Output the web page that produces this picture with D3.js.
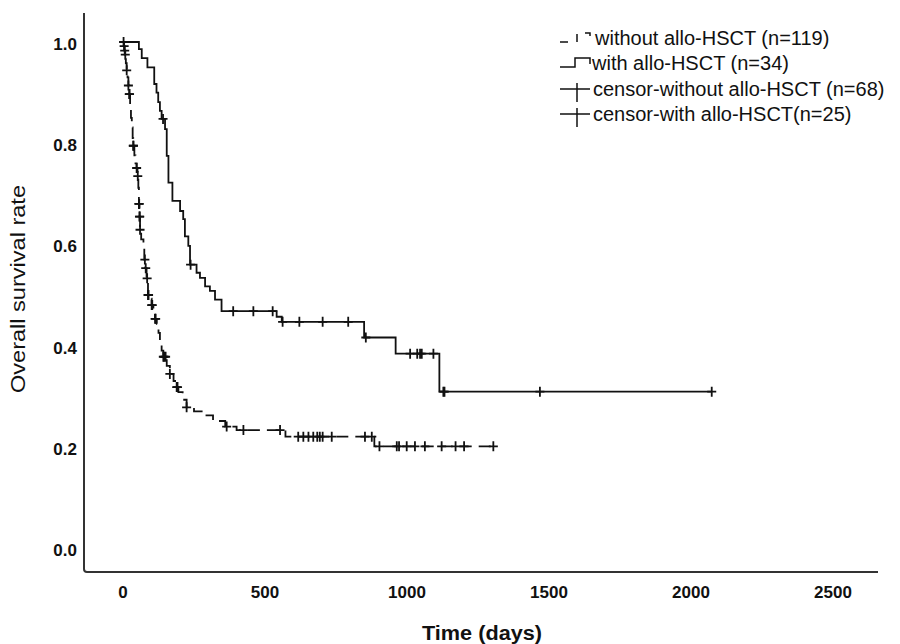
<!DOCTYPE html>
<html>
<head>
<meta charset="utf-8">
<script src="https://cdn.jsdelivr.net/npm/d3@7"></script>
<style>
  html, body { margin: 0; padding: 0; background: #fff; }
  svg { display: block; font-family: "Liberation Sans", Arial, sans-serif; }
</style>
</head>
<body>
<svg id="chart" width="900" height="644"></svg>
<script>
// ---------- data ----------
const timeTicks = [0, 500, 1000, 1500, 2000, 2500];
const survTicks = [0, 0.2, 0.4, 0.6, 0.8, 1.0];

// without allo-HSCT (n=119): event times (days) and survival after each step
const withoutTimes = [0,3,5,7,10,13,16,19,22,25,28,31,34,36,40,44,48,51,54,56,58,60,64,72,75,78,83,88,95,101,107,113,119,125,130,136,142,154,165,178,189,195,210,224,250,277,317,360,400,572,885];
const withoutSurv  = [1.0,0.992,0.983,0.975,0.958,0.944,0.93,0.914,0.897,0.871,0.85,0.831,0.81,0.795,0.776,0.76,0.751,0.735,0.712,0.68,0.655,0.629,0.61,0.592,0.57,0.553,0.533,0.50,0.493,0.48,0.466,0.453,0.443,0.425,0.407,0.39,0.378,0.36,0.344,0.33,0.318,0.308,0.293,0.278,0.27,0.262,0.251,0.24,0.233,0.22,0.201];
const withoutEnd = 1315;
const withoutCensor = [2,4,6,8,13,19,22,23,36,37,48,52,56,57,58,59,60,77,80,85,88,90,101,103,113,115,142,145,150,165,189,192,224,365,424,553,617,635,653,670,684,693,703,735,852,876,903,964,972,999,1028,1063,1122,1171,1201,1304];

// with allo-HSCT (n=34)
const withTimes = [0,56,66,86,110,118,124,130,136,148,154,160,174,201,212,218,230,236,259,271,289,306,324,347,541,559,849,960,1114];
const withSurv  = [1.0,0.986,0.968,0.950,0.917,0.900,0.881,0.864,0.848,0.828,0.775,0.722,0.686,0.666,0.650,0.616,0.597,0.560,0.544,0.534,0.517,0.508,0.491,0.468,0.457,0.447,0.416,0.384,0.309];
const withEnd = 2073;
const withCensor = [141,238,388,459,527,562,621,703,793,855,1011,1036,1046,1052,1093,1128,1132,1468,2073];

const legendLabels = [
  "without allo-HSCT (n=119)",
  "with allo-HSCT (n=34)",
  "censor-without allo-HSCT (n=68)",
  "censor-with allo-HSCT(n=25)"
];

// ---------- layout ----------
const svg = d3.select("#chart");
const ink = "#111";
const x = d3.scaleLinear().domain([0, 2500]).range([123, 833]);
const y = d3.scaleLinear().domain([0, 1]).range([548, 42]);

const axisX0 = 84, axisY0 = 572;

// axes lines (SPSS style, no ticks)
svg.append("path")
  .attr("d", `M${axisX0},13 V${axisY0 - 3} Q${axisX0},${axisY0} ${axisX0 + 3},${axisY0} H878`)
  .attr("fill", "none").attr("stroke", "#333").attr("stroke-width", 2);

// tick labels
svg.append("g").selectAll("text").data(survTicks).join("text")
  .attr("x", 77).attr("y", d => y(d) + 2).attr("dy", "0.35em")
  .attr("text-anchor", "end").attr("font-size", 17).attr("font-weight", "bold")
  .attr("fill", ink).text(d => d3.format(".1f")(d));

svg.append("g").selectAll("text").data(timeTicks).join("text")
  .attr("x", d => x(d)).attr("y", 592).attr("dy", "0.35em")
  .attr("text-anchor", "middle").attr("font-size", 17).attr("font-weight", "bold")
  .attr("fill", ink).text(d => d);

// axis titles
svg.append("text")
  .attr("transform", "translate(25,289) rotate(-90)")
  .attr("text-anchor", "middle").attr("font-size", 21)
  .attr("textLength", 208).attr("lengthAdjust", "spacingAndGlyphs")
  .attr("fill", ink).text("Overall survival rate");

svg.append("text")
  .attr("x", 482).attr("y", 640)
  .attr("text-anchor", "middle").attr("font-size", 20).attr("font-weight", "bold")
  .attr("textLength", 120).attr("lengthAdjust", "spacingAndGlyphs")
  .attr("fill", ink).text("Time (days)");

// ---------- curves ----------
function series(times, surv, end) {
  const pts = times.map((t, i) => ({ t, s: surv[i] }));
  pts.push({ t: end, s: surv[surv.length - 1] });
  return pts;
}
const withoutPts = series(withoutTimes, withoutSurv, withoutEnd);
const withPts = series(withTimes, withSurv, withEnd);

const line = d3.line().x(d => x(d.t)).y(d => y(d.s)).curve(d3.curveStepAfter);

svg.append("path").datum(withoutPts).attr("d", line)
  .attr("fill", "none").attr("stroke", ink).attr("stroke-width", 1.8)
  .attr("stroke-dasharray", "12,7");

svg.append("path").datum(withPts).attr("d", line)
  .attr("fill", "none").attr("stroke", ink).attr("stroke-width", 1.8);

const bis = d3.bisector(d => d.t).right;
function survAt(pts, t) {
  const i = Math.max(0, bis(pts, t) - 1);
  return pts[i].s;
}
function censorMarks(pts, times) {
  svg.append("g").selectAll("path").data(times).join("path")
    .attr("d", t => {
      const cx = x(t), cy = y(survAt(pts, t));
      return `M${cx - 4.5},${cy} H${cx + 4.5} M${cx},${cy - 5} V${cy + 5}`;
    })
    .attr("fill", "none").attr("stroke", ink).attr("stroke-width", 1.8);
}
censorMarks(withoutPts, withoutCensor);
censorMarks(withPts, withCensor);

// ---------- legend ----------
const legX = 560, rowY = [38, 63, 89, 114];
const lg = svg.append("g");
// row 1: dashed step
lg.append("path").attr("d", `M${legX},${rowY[0] + 4} H${legX + 17} V${rowY[0] - 5} H${legX + 30} V${rowY[0] + 3}`)
  .attr("fill", "none").attr("stroke", ink).attr("stroke-width", 1.5).attr("stroke-dasharray", "8,9");
// row 2: solid step
lg.append("path").attr("d", `M${legX},${rowY[1] + 4} H${legX + 15} V${rowY[1] - 5} H${legX + 30} V${rowY[1] + 1}`)
  .attr("fill", "none").attr("stroke", ink).attr("stroke-width", 1.5);
// rows 3-4: censor crosses
[2, 3].forEach(i => {
  lg.append("path").attr("d", `M${legX},${rowY[i]} H${legX + 30} M${legX + 17},${rowY[i] - 6} V${rowY[i] + 13}`)
    .attr("fill", "none").attr("stroke", ink).attr("stroke-width", 1.5);
});
const legTextX = [595, 592, 593, 593];
lg.selectAll("text").data(legendLabels).join("text")
  .attr("x", (d, i) => legTextX[i]).attr("y", (d, i) => rowY[i]).attr("dy", "0.35em")
  .attr("font-size", 20).attr("fill", ink).text(d => d);
</script>
</body>
</html>
